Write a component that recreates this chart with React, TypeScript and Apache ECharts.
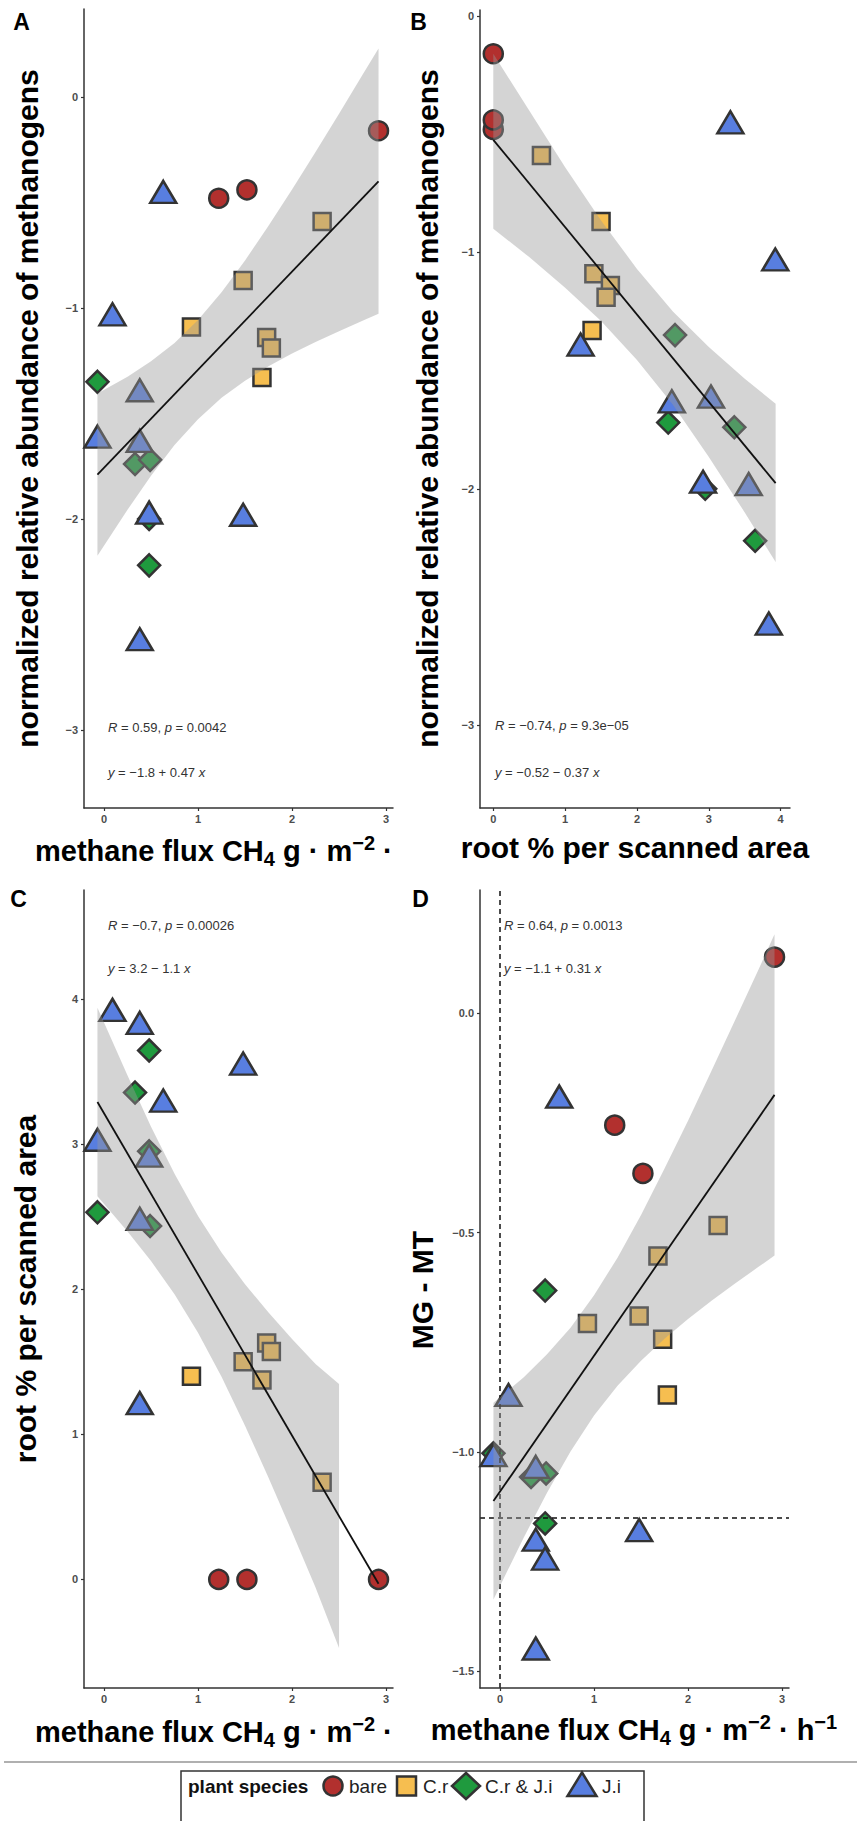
import React, { useEffect, useRef } from "react";
import * as echarts from "echarts";

// ---------- data ----------
const SPECIES = ["bare", "C.r", "C.r & J.i", "J.i"];
const SPECIES_COLORS = ["#b2302e", "#f6be50", "#1f9a3e", "#587ee0"];
const SPECIES_SYMBOLS = ["circle", "rect", "diamond", "triangle"];
const SPECIES_SIZES: any[] = [19, 17, 22, [26, 22]];

// one entry per sample (22 samples)
const sampleSpecies = [0, 0, 0, 1, 1, 1, 1, 1, 1, 2, 2, 2, 2, 2, 3, 3, 3, 3, 3, 3, 3, 3];
const methaneFlux = [1.22, 1.52, 2.92, 2.32, 1.48, 0.93, 1.73, 1.78, 1.68, -0.07, 0.33, 0.49, 0.48, 0.48, 0.63, 0.09, 0.38, -0.07, 0.38, 0.48, 1.48, 0.38];
const rootPercent = [0, 0, 0, 0.67, 1.5, 1.4, 1.63, 1.57, 1.375, 2.53, 3.355, 2.435, 2.95, 3.645, 3.3, 3.925, 1.215, 3.03, 2.485, 2.92, 3.555, 3.835];
const methanogenAbundance = [-0.48, -0.44, -0.16, -0.59, -0.87, -1.09, -1.14, -1.19, -1.33, -1.35, -1.74, -1.72, -2.0, -2.22, -0.45, -1.03, -1.39, -1.61, -1.63, -1.97, -1.98, -2.57];
const mgMinusMt = [-0.255, -0.365, 0.128, -0.484, -0.69, -0.707, -0.743, -0.87, -0.553, -1.003, -1.057, -1.049, -1.163, -0.632, -0.19, -0.87, -1.034, -1.007, -1.2, -1.243, -1.178, -1.448];

// tick labels
const fluxTicks = [0, 1, 2, 3];
const rootTicks = [0, 1, 2, 3, 4];
const abundanceTicks = [-3, -2, -1, 0];
const mgmtTicks = [-1.5, -1.0, -0.5, 0.0];

// fitted regression lines (end points)
const fitA = [[-0.07, -1.79], [2.92, -0.4]];
const fitB = [[0, -0.524], [3.93, -1.976]];
const fitC = [[-0.07, 3.29], [2.92, -0.03]];
const fitD = [[-0.07, -1.112], [2.92, -0.186]];

// confidence bands
const bandAX = [-0.07, 0.25, 0.5, 0.75, 1.0, 1.25, 1.5, 1.75, 2.0, 2.25, 2.5, 2.75, 2.92];
const bandALow = [-2.175, -1.956, -1.795, -1.65, -1.527, -1.426, -1.345, -1.276, -1.216, -1.161, -1.11, -1.061, -1.028];
const bandAHigh = [-1.405, -1.326, -1.253, -1.166, -1.057, -0.926, -0.775, -0.61, -0.438, -0.261, -0.08, 0.105, 0.23];

const bandBX = [0, 0.5, 1.0, 1.5, 2.0, 2.5, 3.0, 3.5, 3.93];
const bandBLow = [-0.9, -1.02, -1.15, -1.29, -1.455, -1.645, -1.865, -2.1, -2.31];
const bandBHigh = [-0.16, -0.4, -0.64, -0.865, -1.07, -1.25, -1.4, -1.535, -1.64];

const bandCX = [-0.07, 0.25, 0.5, 0.75, 1.0, 1.25, 1.5, 1.75, 2.0, 2.25, 2.5];
const bandCLow = [2.64, 2.397, 2.194, 1.965, 1.7, 1.397, 1.06, 0.701, 0.327, -0.055, -0.473];
const bandCHigh = [3.94, 3.473, 3.12, 2.795, 2.504, 2.253, 2.034, 1.839, 1.657, 1.485, 1.347];

const bandDX = [-0.07, 0.25, 0.5, 0.75, 1.0, 1.25, 1.5, 1.75, 2.0, 2.25, 2.5, 2.75, 2.92];
const bandDLow = [-1.336, -1.196, -1.093, -0.999, -0.917, -0.849, -0.792, -0.742, -0.697, -0.655, -0.616, -0.578, -0.552];
const bandDHigh = [-0.888, -0.83, -0.777, -0.717, -0.643, -0.557, -0.46, -0.354, -0.245, -0.131, -0.016, 0.1, 0.18];

// reference lines in panel D
const refFlux = 0;
const refMgMt = -1.15;

// ---------- option building ----------
const FONT = "'Liberation Sans', Arial, Helvetica, sans-serif";

const fmtTick = (decimals: number) => (v: number) => {
  const s = Math.abs(v).toFixed(decimals);
  return v < 0 ? "\u2212" + s : s;
};

const makeBand = (bx: number[], lo: number[], hi: number[]) => (params: any, api: any) => {
  if (params.dataIndex !== 0) return { type: "group", children: [] };
  const upper = bx.map((x, k) => api.coord([x, hi[k]]));
  const lower = bx.map((x, k) => api.coord([x, lo[k]])).reverse();
  return {
    type: "polygon",
    shape: { points: upper.concat(lower) },
    style: { fill: "rgba(153,153,153,0.42)" },
    silent: true,
  };
};

function buildOption() {
  const panels = [
    { xs: methaneFlux, ys: methanogenAbundance, grid: { left: 84, top: 9, width: 309, height: 799 }, xr: [-0.213, 3.074], yr: [-3.37, 0.417], xTicks: fluxTicks, yTicks: abundanceTicks, yDec: 0, fit: fitA, band: [bandAX, bandALow, bandAHigh] },
    { xs: rootPercent, ys: methanogenAbundance, grid: { left: 480, top: 10, width: 310, height: 798 }, xr: [-0.185, 4.13], yr: [-3.35, 0.025], xTicks: rootTicks, yTicks: abundanceTicks, yDec: 0, fit: fitB, band: [bandBX, bandBLow, bandBHigh] },
    { xs: methaneFlux, ys: rootPercent, grid: { left: 84, top: 890, width: 309, height: 798 }, xr: [-0.213, 3.074], yr: [-0.748, 4.751], xTicks: fluxTicks, yTicks: rootTicks, yDec: 0, fit: fitC, band: [bandCX, bandCLow, bandCHigh] },
    { xs: methaneFlux, ys: mgMinusMt, grid: { left: 480, top: 890, width: 309, height: 798 }, xr: [-0.213, 3.074], yr: [-1.538, 0.281], xTicks: fluxTicks, yTicks: mgmtTicks, yDec: 1, fit: fitD, band: [bandDX, bandDLow, bandDHigh] },
  ];

  const axisLine = { show: true, onZero: false, lineStyle: { color: "#333", width: 1.5 } };
  const tickLabel = { color: "#4d4d4d", fontSize: 11, fontWeight: "bold", fontFamily: FONT };

  const grid: any[] = [];
  const xAxis: any[] = [];
  const yAxis: any[] = [];
  const series: any[] = [];

  panels.forEach((p, i) => {
    grid.push({ ...p.grid, outerBoundsMode: "none", containLabel: false });
    xAxis.push({
      type: "value", gridIndex: i, min: p.xr[0], max: p.xr[1], position: "bottom",
      axisLine, splitLine: { show: false }, z: 10,
      axisTick: { show: true, length: 3, customValues: p.xTicks, lineStyle: { color: "#333", width: 1.2 } },
      axisLabel: { ...tickLabel, margin: 5, customValues: p.xTicks, formatter: fmtTick(0) },
    });
    yAxis.push({
      type: "value", gridIndex: i, min: p.yr[0], max: p.yr[1], position: "left",
      axisLine, splitLine: { show: false }, z: 10,
      axisTick: { show: true, length: 3, customValues: p.yTicks, lineStyle: { color: "#333", width: 1.2 } },
      axisLabel: { ...tickLabel, margin: 6, customValues: p.yTicks, formatter: fmtTick(p.yDec) },
    });

    SPECIES.forEach((name, s) => {
      const data: number[][] = [];
      sampleSpecies.forEach((sp, j) => {
        if (sp === s) data.push([p.xs[j], p.ys[j]]);
      });
      series.push({
        type: "scatter", name, xAxisIndex: i, yAxisIndex: i, silent: true, z: 2,
        symbol: SPECIES_SYMBOLS[s], symbolSize: SPECIES_SIZES[s], data,
        itemStyle: { color: SPECIES_COLORS[s], borderColor: "#333", borderWidth: 2.5, opacity: 1 },
        emphasis: { disabled: true },
      });
    });

    const [bx, lo, hi] = p.band;
    series.push({
      type: "custom", xAxisIndex: i, yAxisIndex: i, silent: true, z: 5,
      data: bx.map((x, k) => [x, lo[k], hi[k]]),
      encode: { x: 0, y: [1, 2] },
      renderItem: makeBand(bx, lo, hi),
    });

    const line: any = {
      type: "line", xAxisIndex: i, yAxisIndex: i, silent: true, z: 6,
      data: p.fit, symbol: "none", showSymbol: false,
      lineStyle: { color: "#111", width: 1.8 },
      emphasis: { disabled: true },
    };
    if (i === 3) {
      line.markLine = {
        silent: true, symbol: ["none", "none"], label: { show: false },
        lineStyle: { type: [5, 4], color: "#111", width: 1.5 },
        emphasis: { disabled: true },
        data: [{ xAxis: refFlux }, { yAxis: refMgMt }],
      };
    }
    series.push(line);
  });

  const titleBase = { fontFamily: FONT, fontWeight: "bold", fill: "#000" };
  const supSub = (va: string) => ({ fontFamily: FONT, fontWeight: "bold", fontSize: 20, lineHeight: 20, verticalAlign: va, fill: "#000" });
  const fluxRich = { sub: supSub("bottom"), sup: supSub("top") };
  const annot = { fontFamily: FONT, fontSize: 13, fill: "#333", align: "left", verticalAlign: "middle", rich: { i: { fontFamily: FONT, fontSize: 13, fontStyle: "italic", fill: "#333" } } };

  const graphic: any[] = [
    // panel letters
    { type: "text", x: 21.5, y: 22, style: { ...titleBase, text: "A", fontSize: 23, align: "center", verticalAlign: "middle" } },
    { type: "text", x: 418.5, y: 22, style: { ...titleBase, text: "B", fontSize: 23, align: "center", verticalAlign: "middle" } },
    { type: "text", x: 18.5, y: 899, style: { ...titleBase, text: "C", fontSize: 23, align: "center", verticalAlign: "middle" } },
    { type: "text", x: 420.5, y: 899, style: { ...titleBase, text: "D", fontSize: 23, align: "center", verticalAlign: "middle" } },
    // y titles
    { type: "text", x: 27, y: 408.5, rotation: Math.PI / 2, style: { ...titleBase, text: "normalized relative abundance of methanogens", fontSize: 30, align: "center", verticalAlign: "middle" } },
    { type: "text", x: 427.5, y: 408.5, rotation: Math.PI / 2, style: { ...titleBase, text: "normalized relative abundance of methanogens", fontSize: 30, align: "center", verticalAlign: "middle" } },
    { type: "text", x: 25, y: 1289, rotation: Math.PI / 2, style: { ...titleBase, text: "root % per scanned area", fontSize: 30, align: "center", verticalAlign: "middle" } },
    { type: "text", x: 422.5, y: 1290, rotation: Math.PI / 2, style: { ...titleBase, text: "MG - MT", fontSize: 30, align: "center", verticalAlign: "middle" } },
    // x titles
    { type: "text", x: 35, y: 851, style: { ...titleBase, text: "methane flux CH{sub|4} g \u00b7 m{sup|\u22122} \u00b7", fontSize: 29, lineHeight: 36, align: "left", verticalAlign: "middle", rich: fluxRich } },
    { type: "text", x: 635, y: 847, style: { ...titleBase, text: "root % per scanned area", fontSize: 30, align: "center", verticalAlign: "middle" } },
    { type: "text", x: 35, y: 1732, style: { ...titleBase, text: "methane flux CH{sub|4} g \u00b7 m{sup|\u22122} \u00b7", fontSize: 29, lineHeight: 36, align: "left", verticalAlign: "middle", rich: fluxRich } },
    { type: "text", x: 634, y: 1730, style: { ...titleBase, text: "methane flux CH{sub|4} g \u00b7 m{sup|\u22122} \u00b7 h{sup|\u22121}", fontSize: 29, lineHeight: 36, align: "center", verticalAlign: "middle", rich: fluxRich } },
    // statistics annotations
    { type: "text", x: 108, y: 727, style: { ...annot, text: "{i|R} = 0.59, {i|p} = 0.0042" } },
    { type: "text", x: 108, y: 772, style: { ...annot, text: "{i|y} = \u22121.8 + 0.47 {i|x}" } },
    { type: "text", x: 495, y: 725, style: { ...annot, text: "{i|R} = \u22120.74, {i|p} = 9.3e\u221205" } },
    { type: "text", x: 495, y: 772, style: { ...annot, text: "{i|y} = \u22120.52 \u2212 0.37 {i|x}" } },
    { type: "text", x: 108, y: 925, style: { ...annot, text: "{i|R} = \u22120.7, {i|p} = 0.00026" } },
    { type: "text", x: 108, y: 968, style: { ...annot, text: "{i|y} = 3.2 \u2212 1.1 {i|x}" } },
    { type: "text", x: 504, y: 925, style: { ...annot, text: "{i|R} = 0.64, {i|p} = 0.0013" } },
    { type: "text", x: 504, y: 968, style: { ...annot, text: "{i|y} = \u22121.1 + 0.31 {i|x}" } },
    // separator and legend
    { type: "line", shape: { x1: 4, y1: 1762, x2: 857, y2: 1762 }, style: { stroke: "#b0b0b0", lineWidth: 2 } },
    { type: "rect", shape: { x: 181, y: 1771, width: 463, height: 70 }, style: { fill: "#fff", stroke: "#333", lineWidth: 1.5 } },
    { type: "text", x: 188, y: 1786, style: { ...titleBase, text: "plant species", fontSize: 19, fill: "#111", align: "left", verticalAlign: "middle" } },
    { type: "circle", shape: { cx: 333, cy: 1786, r: 9.5 }, style: { fill: SPECIES_COLORS[0], stroke: "#333", lineWidth: 2.5 } },
    { type: "text", x: 349, y: 1786, style: { fontFamily: FONT, text: SPECIES[0], fontSize: 19, fill: "#222", align: "left", verticalAlign: "middle" } },
    { type: "rect", shape: { x: 397, y: 1776.5, width: 19, height: 19 }, style: { fill: SPECIES_COLORS[1], stroke: "#333", lineWidth: 2.5 } },
    { type: "text", x: 423, y: 1786, style: { fontFamily: FONT, text: SPECIES[1], fontSize: 19, fill: "#222", align: "left", verticalAlign: "middle" } },
    { type: "polygon", shape: { points: [[466, 1773], [480, 1786], [466, 1799], [452, 1786]] }, style: { fill: SPECIES_COLORS[2], stroke: "#333", lineWidth: 2.5 } },
    { type: "text", x: 485, y: 1786, style: { fontFamily: FONT, text: SPECIES[2], fontSize: 19, fill: "#222", align: "left", verticalAlign: "middle" } },
    { type: "polygon", shape: { points: [[582, 1772.5], [596.5, 1796], [567.5, 1796]] }, style: { fill: SPECIES_COLORS[3], stroke: "#333", lineWidth: 2.5 } },
    { type: "text", x: 602, y: 1786, style: { fontFamily: FONT, text: SPECIES[3], fontSize: 19, fill: "#222", align: "left", verticalAlign: "middle" } },
  ];

  return {
    animation: false,
    backgroundColor: "#ffffff",
    textStyle: { fontFamily: FONT },
    grid, xAxis, yAxis, series, graphic,
  };
}

export default function App() {
  const ref = useRef<HTMLDivElement>(null);
  useEffect(() => {
    if (!ref.current) return;
    const chart = echarts.init(ref.current, undefined, { renderer: "svg" });
    chart.setOption(buildOption() as any);
    return () => chart.dispose();
  }, []);
  return (
    <div
      ref={ref}
      style={{ position: "absolute", left: 0, top: 0, width: 857, height: 1821, background: "#fff" }}
    />
  );
}
